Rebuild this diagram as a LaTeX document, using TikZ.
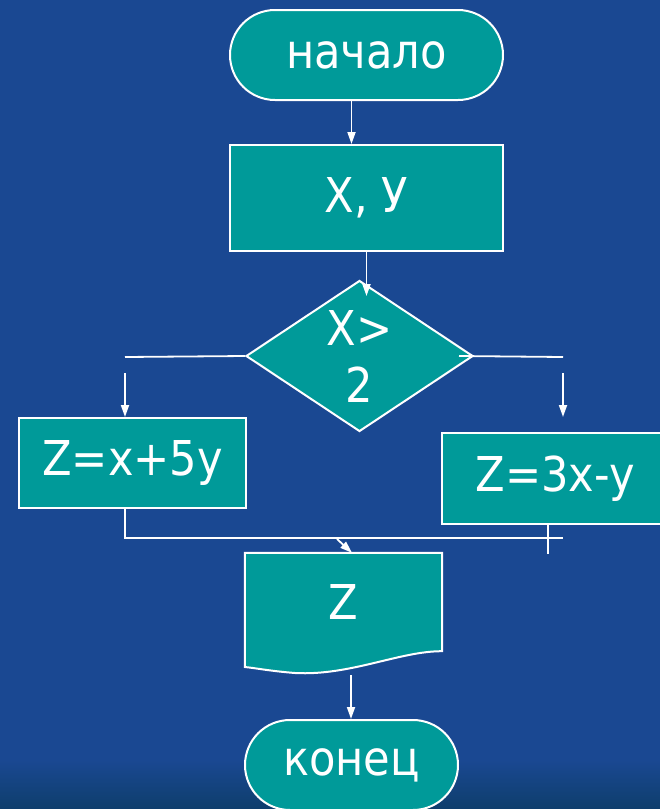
\documentclass[tikz,border=0pt]{standalone}
\usepackage{fontspec}
\setmainfont{DejaVu Sans Condensed}
\usepackage{tikz}
\usetikzlibrary{shapes.geometric}
\usetikzlibrary{arrows.meta}

\definecolor{bgblue}{RGB}{26,72,146}
\definecolor{bgdark}{RGB}{14,62,108}
\definecolor{teal}{RGB}{0,154,153}

\tikzset{
	box/.style = {draw=white, fill=teal, line width=2pt, text=white, inner sep=0pt},
	term/.style = {box, rounded corners=45pt},
	arr/.style = {draw=white, line width=1.8pt, -{Triangle[length=12pt,width=8pt]}},
	link/.style = {draw=white, line width=1.8pt}
}

\begin{document}
\begin{tikzpicture}[x=1pt, y=-1pt, font=\fontsize{48}{57}\selectfont]
	% background
	\useasboundingbox (0,0) rectangle (660,809);
	\clip (0,0) rectangle (660,809);
	\fill[bgblue] (0,0) rectangle (660,809);
	\shade[top color=bgblue, bottom color=bgdark] (0,760) rectangle (660,809);

	% draw nodes
	\node[term, minimum width=273pt, minimum height=90pt] (start) at (366.5,55) {начало};
	\node[box, minimum width=273pt, minimum height=106pt] (input) at (366.5,198) {X, У};
	\node[box, diamond, aspect=1.5, minimum width=227pt, minimum height=151pt, align=center] (cond) at (359.5,356) {X>\\2};
	\node[box, minimum width=227pt, minimum height=90pt] (left) at (132.5,463) {Z=x+5y};
	\node[box, minimum width=226pt, minimum height=91pt] (right) at (555,478.5) {Z=3x-y};
	\node[text=white, minimum width=197pt, minimum height=98pt, inner sep=0pt] (out) at (343.5,602) {};
	\node[term, minimum width=213pt, minimum height=90pt] (stop) at (351.5,765) {конец};

	% output sheet with wavy bottom
	\draw[box] (out.north west) -- (out.north east) -- (out.south east)
		.. controls (400,651) and (350,676) .. (295,673)
		.. controls (270,671) and (255,668) .. (out.south west |- 0,667) -- cycle;
	\node[text=white] at (out.center) {Z};

	% draw connectors
	\coordinate (lend) at (125,357);
	\coordinate (rend) at (563,357);
	\coordinate (jn) at (563,538);
	\draw[arr] ([xshift=-15pt]start.south) -- ([xshift=-15pt]input.north);
	\draw[arr] (input.south) -- (input.south |- 0,296);
	\draw[link] (cond.west) -- (lend);
	\draw[link] ([xshift=-15pt]cond.east) -- (rend);
	\draw[arr] ([yshift=-16pt]lend) -- (lend |- left.north);
	\draw[arr] ([yshift=-16pt]rend) -- ([yshift=-60pt]rend);
	\draw[link] (left.south -| lend) -- (lend |- jn) -- (jn);
	\draw[link] (right.south -| 548,0) -- ++(0,29);
	\draw[arr] (337,539) -- (out.north -| 352,0);
	\draw[arr] (351,675) -- (stop.north -| 351,0);
\end{tikzpicture}
\end{document}
